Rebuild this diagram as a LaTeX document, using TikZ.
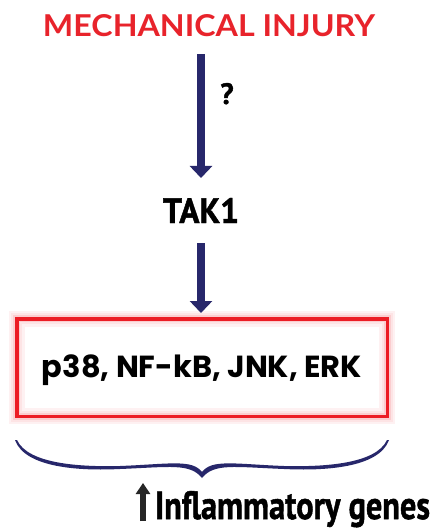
\documentclass[tikz,border=0pt]{standalone}
\usepackage{fontspec}
\usetikzlibrary{arrows.meta}
\newfontfamily\latofont{Lato}
\newfontfamily\popfont{Poppins}
\newfontfamily\ptsfont[BoldFeatures={FakeBold=1.3}]{PT Sans}
\definecolor{injred}{HTML}{E8232B}
\definecolor{navyblue}{HTML}{27276B}
\definecolor{boxred}{HTML}{EC1C24}
\tikzset{
  txt/.style={inner sep=0pt, outer sep=0pt, anchor=base},
  navyarrow/.style={draw=navyblue, line width=8pt, -{Triangle[width=22pt,length=12pt]}},
  uparrow/.style={draw=black!85, line width=6pt, -{Triangle[width=14pt,length=11pt]}},
  glow/.style={draw=boxred!#1, line join=miter},
}
\begin{document}
\begin{tikzpicture}[x=1pt,y=-1pt]
\useasboundingbox (0,0) rectangle (431,532);
\fill[white] (0,0) rectangle (431,532);

\node[txt, text=injred] (mi) at (209,37) {\resizebox{332pt}{22pt}{\latofont\bfseries MECHANICAL INJURY}};
\node[txt] (tak) at (201,223) {\resizebox{76pt}{25pt}{\ptsfont\bfseries TAK1}};
\node[txt] (q) at (227,104) {\resizebox{!}{21pt}{\ptsfont\bfseries ?}};

\node[minimum width=370.5pt, minimum height=97.5pt, inner sep=0pt, outer sep=0pt] (box) at (202,367.5) {};
\draw[glow=6, line width=16pt] (box.north west) rectangle (box.south east);
\draw[glow=12, line width=11pt] (box.north west) rectangle (box.south east);
\draw[glow=22, line width=7pt] (box.north west) rectangle (box.south east);
\draw[boxred, line width=3.5pt] (box.north west) rectangle (box.south east);
\node[txt] (kin) at (202,377) {\resizebox{320pt}{!}{\popfont\bfseries p38, NF-kB, JNK, ERK}};

\draw[navyarrow, shorten <=17pt, shorten >=20pt] (tak.north |- mi.south) -- (tak.north);
\draw[navyarrow, shorten <=20pt, shorten >=5.75pt] (tak.south) -- (tak.south |- box.north);

% brace
\fill[navyblue] (15,440) .. controls (25,468) and (80,471) .. (120,469)
  .. controls (170,467) and (190,463) .. (202,478)
  .. controls (214,463) and (234,467) .. (284,469)
  .. controls (324,471) and (379,468) .. (389,440)
  -- (387,440) .. controls (376,464) and (324,467) .. (284,466)
  .. controls (234,464) and (212,459) .. (202,472)
  .. controls (192,459) and (170,464) .. (120,466)
  .. controls (80,467) and (28,464) .. (17,440) -- cycle;

\coordinate (ub) at (143,521);
\coordinate (ut) at (143,483);
\draw[uparrow] (ub) -- (ut);
\node[txt, anchor=base west] (genes) at (155,519) {\resizebox{275pt}{28pt}{\ptsfont\bfseries Inflammatory genes}};
\end{tikzpicture}
\end{document}
